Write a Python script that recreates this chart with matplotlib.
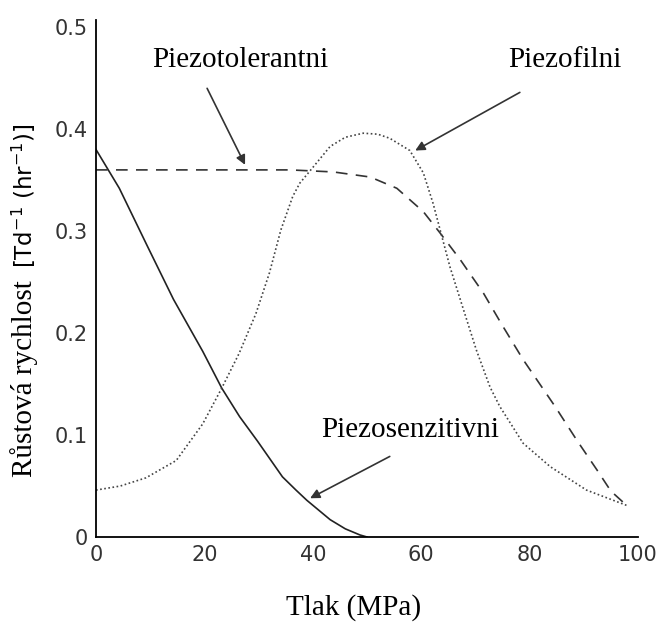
import matplotlib.pyplot as plt

# Piezosenzitivni (plná čára)
x_sens = [0, 4.3, 9.5, 14.3, 19.7, 23.2, 26.5, 29.8, 34.4, 36.9, 38.9, 43.2, 46, 48.7, 50]
y_sens = [0.38, 0.342, 0.285, 0.233, 0.182, 0.146, 0.118, 0.094, 0.059, 0.046, 0.036, 0.017, 0.008, 0.002, 0.0]

# Piezotolerantni (čárkovaná)
x_tol = [0, 20, 35.8, 43.8, 50.6, 55.5, 60.4, 63.5, 67.2, 71.5, 74.8, 78.8, 84.7, 88.7, 92.4, 95, 97.9]
y_tol = [0.36, 0.36, 0.36, 0.358, 0.353, 0.342, 0.319, 0.298, 0.272, 0.239, 0.209, 0.174, 0.128, 0.095,
         0.066, 0.045, 0.031]

# Piezofilni (tečkovaná)
x_fil = [0, 4.5, 9.2, 14.8, 19.7, 23.2, 26.4, 29.5, 32, 34.1, 36.3, 37.6, 40.1, 43.2, 46, 49.3, 52,
         54.2, 57.9, 60.4, 62.2, 63.5, 65.3, 67.8, 70.2, 72.7, 74.5, 78.8, 83.8, 90.5, 97.9]
y_fil = [0.046, 0.05, 0.058, 0.075, 0.111, 0.146, 0.18, 0.219, 0.259, 0.301, 0.334, 0.347, 0.363,
         0.383, 0.392, 0.396, 0.395, 0.391, 0.379, 0.357, 0.327, 0.301, 0.265, 0.223, 0.183, 0.147,
         0.128, 0.092, 0.069, 0.046, 0.031]

xticks = [0, 20, 40, 60, 80, 100]
yticks = [0, 0.1, 0.2, 0.3, 0.4, 0.5]
ytick_labels = ["0", "0.1", "0.2", "0.3", "0.4", "0.5"]

serif = "Liberation Serif"
sans = "DejaVu Sans"

fig = plt.figure(figsize=(6.59, 6.23), dpi=100)
ax = fig.add_axes([96 / 659, 86 / 623, 542 / 659, 517 / 623])

ax.plot(x_sens, y_sens, color="#222222", lw=1.2)
ax.plot(x_tol, y_tol, color="#333333", lw=1.2, linestyle=(0, (7, 5)))
ax.plot(x_fil, y_fil, color="#444444", lw=1.2, linestyle=(0, (1, 1.5)))

ax.set_xlim(0, 100)
ax.set_ylim(0, 0.507)
ax.spines["top"].set_visible(False)
ax.spines["right"].set_visible(False)
ax.spines["left"].set_linewidth(1.3)
ax.spines["bottom"].set_linewidth(1.3)
ax.set_xticks(xticks)
ax.set_yticks(yticks)
ax.set_yticklabels(ytick_labels)
ax.tick_params(length=0, pad=6, labelsize=15, colors="#333333")
for lbl in ax.get_xticklabels() + ax.get_yticklabels():
    lbl.set_family(sans)

arrow = dict(arrowstyle="-|>", color="#333333", lw=1.2, mutation_scale=14, shrinkA=0, shrinkB=0)
ax.text(26.6, 0.468, "Piezotolerantni", family=serif, fontsize=21, ha="center", va="center")
ax.annotate("", xy=(27.5, 0.365), xytext=(20.5, 0.44), arrowprops=arrow)
ax.text(86.5, 0.468, "Piezofilni", family=serif, fontsize=21, ha="center", va="center")
ax.annotate("", xy=(58.9, 0.379), xytext=(78.2, 0.436), arrowprops=arrow)
ax.text(58, 0.105, "Piezosenzitivni", family=serif, fontsize=21, ha="center", va="center")
ax.annotate("", xy=(39.5, 0.038), xytext=(54.2, 0.079), arrowprops=arrow)

fig.text(354 / 659, 1 - 608 / 623, "Tlak (MPa)", family=serif, fontsize=21, ha="center", va="center")
fig.text(24 / 659, 1 - 477 / 623, "Růstová rychlost", family=serif, fontsize=21,
         rotation=90, ha="center", va="bottom")
fig.text(24 / 659, 1 - 268 / 623, "[Td$^{-1}$ (hr$^{-1}$)]", family=sans, fontsize=16.5,
         rotation=90, ha="center", va="bottom")

fig.savefig("out.png", dpi=100)
